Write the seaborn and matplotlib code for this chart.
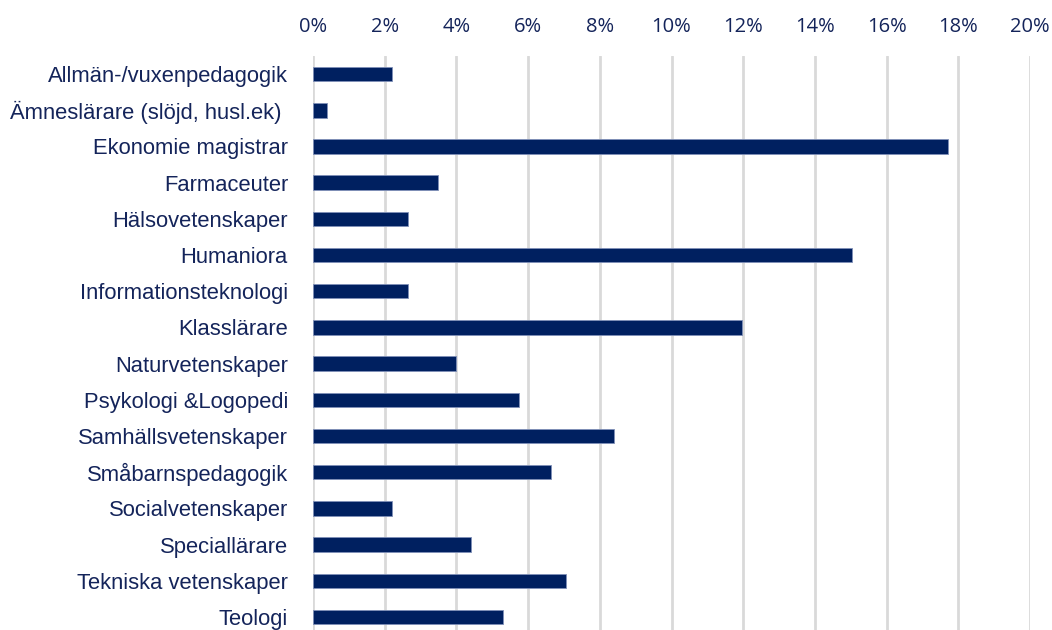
import pandas as pd
import seaborn as sns
import matplotlib.pyplot as plt
from matplotlib.ticker import PercentFormatter

# Share of graduates per field (%)
fields = [
    'Allmän-/vuxenpedagogik', 'Ämneslärare (slöjd, husl.ek) ', 'Ekonomie magistrar',
    'Farmaceuter', 'Hälsovetenskaper', 'Humaniora', 'Informationsteknologi',
    'Klasslärare', 'Naturvetenskaper', 'Psykologi &Logopedi', 'Samhällsvetenskaper',
    'Småbarnspedagogik', 'Socialvetenskaper', 'Speciallärare', 'Tekniska vetenskaper',
    'Teologi',
]
shares = [2.2, 0.4, 17.7, 3.5, 2.65, 15.04, 2.65, 11.96, 3.98, 5.75, 8.4,
          6.63, 2.2, 4.42, 7.07, 5.3]
xticks = [0, 2, 4, 6, 8, 10, 12, 14, 16, 18, 20]

df = pd.DataFrame({'field': fields, 'share': shares})

sns.set_style('white')
plt.rcParams['font.family'] = ['Liberation Sans', 'DejaVu Sans']

bar_color = '#002060'
text_color = '#14245A'

fig = plt.figure(figsize=(10.52, 6.3), dpi=100)
ax = fig.add_axes([313 / 1052, 0, 717 / 1052, 574 / 630])

sns.barplot(data=df, x='share', y='field', orient='h', color=bar_color,
            width=0.4, edgecolor='#8090B8', linewidth=0.6, saturation=1, ax=ax)

ax.set_xlim(0, 20)
ax.set_ylim(15.36, -0.5)
ax.set_xticks(xticks)
ax.xaxis.set_major_formatter(PercentFormatter(decimals=0))
ax.xaxis.tick_top()
ax.grid(axis='x', color='#D9D9D9', linewidth=2)
ax.set_axisbelow(True)
for s in ax.spines.values():
    s.set_visible(False)

ax.tick_params(axis='x', length=0, pad=14, labelcolor=text_color, labelsize=14.5)
ax.tick_params(axis='y', length=0, pad=18, labelcolor=text_color, labelsize=15.8)
for lbl in ax.get_xticklabels():
    lbl.set_family(['Open Sans', 'DejaVu Sans'])
ax.set_xlabel('')
ax.set_ylabel('')

fig.savefig('out.png', dpi=100)
